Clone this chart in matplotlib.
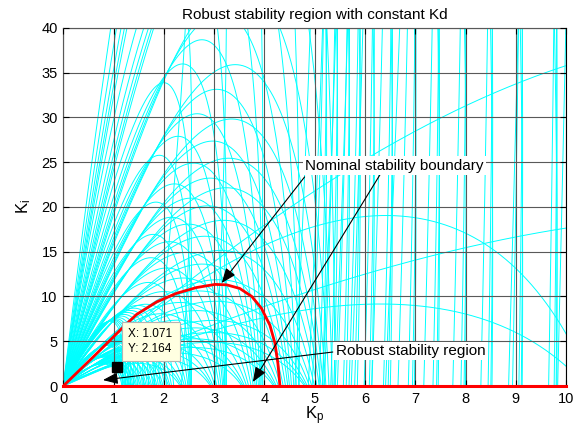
import numpy as np
import matplotlib
matplotlib.use('Agg')
from matplotlib import pyplot as plt
from matplotlib.patches import Rectangle

plt.rcParams['font.family'] = ['Liberation Sans', 'DejaVu Sans']
plt.rcParams['mathtext.fontset'] = 'custom'
plt.rcParams['mathtext.rm'] = 'Liberation Sans'
plt.rcParams['mathtext.it'] = 'Liberation Sans'

# nominal stability boundary (Kp, Ki)
nominal_kp = [0, 0.33, 0.66, 1.0, 1.16, 1.46, 1.86, 2.25, 2.65, 3.02, 3.25, 3.51, 3.75,
              3.94, 4.11, 4.21, 4.27, 4.31]
nominal_ki = [0, 1.8, 3.6, 5.5, 6.4, 8.0, 9.4, 10.35, 11.0, 11.35, 11.3, 10.9, 10.0,
              8.7, 6.8, 4.8, 2.5, 0]

# uncertain plant K*exp(-L*s)/(s*(T*s+1)), Kd held constant
# each group: (K*L values, L values)
Kd = 0.05
lag_ratio = 0.02   # T/L
kl_a = [0.33, 0.38, 0.45, 0.55, 0.7]
delay_a = [0.04, 0.05, 0.06, 0.07, 0.08, 0.09, 0.1, 0.115, 0.135, 0.165, 0.2, 0.25,
           0.3, 0.36]
kl_b = [0.8, 0.86, 0.92, 0.98, 1.05, 1.12, 1.2, 1.27, 1.33, 1.38, 1.44, 1.5]
delay_b = [0.13, 0.17, 0.21, 0.25]
kl_c = [0.07, 0.15]
delay_c = [0.2, 0.4]

datatip = (1.071, 2.164)


def boundary(K, T, L, w):
    u = w * L
    kp = (w**2 * T * np.cos(u) + w * np.sin(u)) / K
    ki = Kd * w**2 + w**2 * (np.cos(u) - w * T * np.sin(u)) / K
    return kp, ki


fig = plt.figure(figsize=(5.8, 4.28), dpi=100)
ax = fig.add_axes([0.109, 0.098, 0.867, 0.837])

for kl_list, delay_list in [(kl_a, delay_a), (kl_b, delay_b), (kl_c, delay_c)]:
    for kl in kl_list:
        for L in delay_list:
            w = np.linspace(1e-3, 3 * np.pi / L, 6000)
            kp, ki = boundary(kl / L, lag_ratio * L, L, w)
            ax.plot(kp, ki, color=(0, 1, 1), lw=0.7)

ax.plot(nominal_kp, nominal_ki, color='r', lw=2, zorder=5)
ax.plot([0, 10], [0, 0], color='r', lw=2.2, zorder=5, clip_on=False)

# data cursor
ax.plot(datatip[0], datatip[1], 's', color='k', ms=7, zorder=6)
ax.add_patch(Rectangle((1.16, 2.83), 1.16, 4.35, fc='#ffffe1', ec='#b4b4b4', lw=0.8, zorder=7))
ax.text(1.29, 5.81, 'X: %.3f' % datatip[0], fontsize=8.5, va='center', zorder=8)
ax.text(1.29, 4.10, 'Y: %.3f' % datatip[1], fontsize=8.5, va='center', zorder=8)

arrow = dict(arrowstyle='-|>,head_length=0.9,head_width=0.35', color='k', lw=0.8,
             shrinkA=0, shrinkB=0)
ax.annotate('', xy=(3.15, 11.5), xytext=(4.80, 23.35), arrowprops=arrow, zorder=8)
ax.annotate('', xy=(3.77, 0.45), xytext=(6.30, 23.6), arrowprops=arrow, zorder=8)
ax.annotate('', xy=(0.79, 0.67), xytext=(5.36, 3.8), arrowprops=arrow, zorder=8)
ax.text(6.59, 24.6, 'Nominal stability boundary', fontsize=11, ha='center', va='center',
        zorder=9, bbox=dict(boxstyle='square,pad=0.15', fc='w', ec='none'))
ax.text(6.91, 3.9, 'Robust stability region', fontsize=11, ha='center', va='center',
        zorder=9, bbox=dict(boxstyle='square,pad=0.15', fc='w', ec='none'))

ax.set_xlim(0, 10)
ax.set_ylim(0, 40)
ax.set_xticks(range(0, 11))
ax.set_yticks(range(0, 41, 5))
ax.grid(True, color=(0.35, 0.35, 0.35), lw=0.8)
ax.set_axisbelow(False)
ax.tick_params(direction='in', length=4, top=True, right=True, labelsize=10.5, pad=4)
for s in ax.spines.values():
    s.set_linewidth(0.8)
ax.set_title('Robust stability region with constant Kd', fontsize=11, pad=6)
ax.set_xlabel('$\\mathregular{K_p}$', fontsize=12, labelpad=-1)
ax.set_ylabel('$\\mathregular{K_i}$', fontsize=12, labelpad=6)

fig.savefig('out.png')
